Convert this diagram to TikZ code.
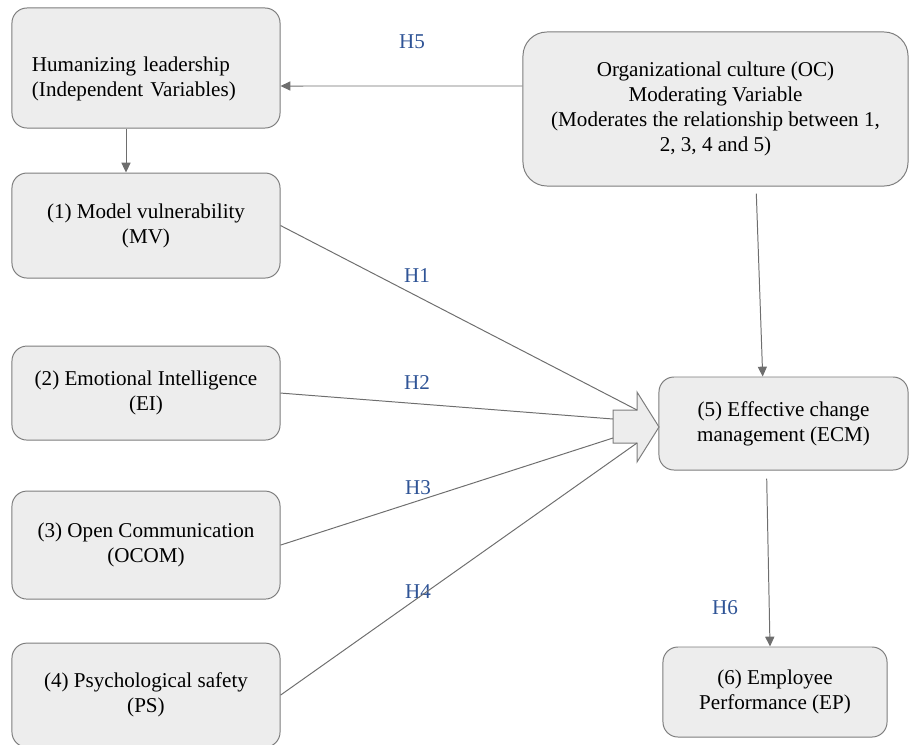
\documentclass[tikz,border=0pt]{standalone}
\usepackage{fontspec}
\setmainfont{Liberation Serif}
\usepackage{xcolor}
\usetikzlibrary{arrows.meta, positioning}

\definecolor{boxfill}{RGB}{237,237,237}
\definecolor{boxline}{RGB}{125,125,125}
\definecolor{linkgray}{RGB}{110,110,110}
\definecolor{hypblue}{RGB}{47,84,150}

\begin{document}
\begin{tikzpicture}[
    x=0.025cm, y=-0.025cm,
    varbox/.style={rectangle, rounded corners=0.375cm, draw=boxline, fill=boxfill, line width=0.7pt, minimum width=6.7cm, minimum height=2.6cm, inner sep=0pt, align=center, font=\fontsize{15}{17.8}\selectfont},
    hyp/.style={text=hypblue, inner sep=0pt, font=\fontsize{15}{17.8}\selectfont},
    link/.style={-{Triangle[length=7pt, width=6.5pt]}, draw=linkgray, line width=0.7pt},
    feed/.style={draw=linkgray, line width=0.7pt}
]
\useasboundingbox (0,0) rectangle (912,744);

% left column
\node[varbox, align=left, text width=5.7cm, inner xsep=0.5cm, minimum height=3cm] (lead) at (146,68) {\rule{0pt}{26pt}Humanizing leadership\\(Independent Variables)};
\node[varbox, minimum height=2.625cm, below=1.1cm of lead] (mv) {(1) Model vulnerability\\(MV)};
\node[varbox, minimum height=2.35cm, below=1.675cm of mv] (ei) {(2) Emotional Intelligence\\(EI)};
\node[varbox, minimum height=2.7cm, below=1.25cm of ei] (ocom) {(3) Open Communication\\(OCOM)};
\node[varbox, minimum height=2.6cm, below=1.075cm of ocom] (ps) {(4) Psychological safety\\(PS)};

% right column
\node[varbox, rounded corners=0.6cm, minimum width=9.625cm, minimum height=3.85cm] (oc) at (715.5,109) {Organizational culture (OC)\\Moderating Variable\\(Moderates the relationship between 1,\\2, 3, 4 and 5)};
\node[varbox, minimum width=6.225cm, minimum height=2.325cm] (ecm) at (783.5,423.5) {(5) Effective change\\management (ECM)};
\node[varbox, minimum width=5.6cm, minimum height=2.25cm] (ep) at (775,692) {(6) Employee\\Performance (EP)};

% block arrow into ECM
\draw[fill=boxfill, draw=boxline, line width=0.7pt] (613,410) -- (637,410) -- (637,392) -- (659,427) -- (637,462) -- (637,443) -- (613,443) -- cycle;
\coordinate (in1) at (637,410);
\coordinate (in2) at (613,419);
\coordinate (in3) at (613,438);
\coordinate (in4) at (637,443);

% hypothesis labels
\node[hyp] (h5) at (412,42) {H5};
\node[hyp] (h1) at (417,276) {H1};
\node[hyp] (h2) at (417,383) {H2};
\node[hyp] (h3) at (418,488) {H3};
\node[hyp] (h4) at (418,592) {H4};
\node[hyp] (h6) at (725,608) {H6};

\draw[link] ([yshift=0.575cm]oc.west) -- ([yshift=-0.45cm]lead.east);
\draw[link] ([xshift=-0.5cm]lead.south) -- ([xshift=-0.5cm]mv.north);
\draw[link] ([shift={(1.02cm,-0.18cm)}]oc.south) -- ([xshift=-0.52cm]ecm.north);
\draw[link] ([shift={(-0.42cm,-0.2cm)}]ecm.south) -- ([xshift=-0.125cm]ep.north);
\draw[feed] (mv.east) -- (in1);
\draw[feed] (ei.east) -- (in2);
\draw[feed] (ocom.east) -- (in3);
\draw[feed] (ps.east) -- (in4);

\end{tikzpicture}
\end{document}
